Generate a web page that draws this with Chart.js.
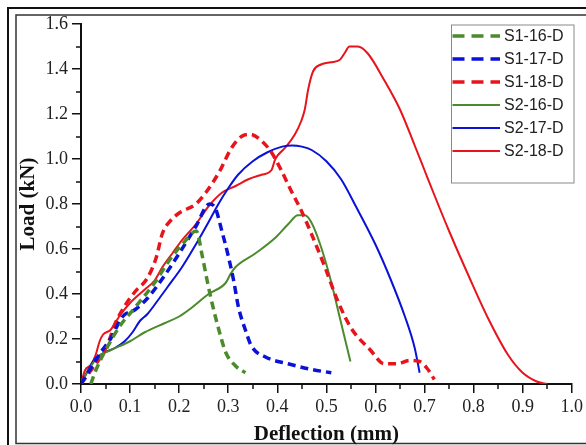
<!DOCTYPE html>
<html>
<head>
<meta charset="utf-8">
<script src="https://cdn.jsdelivr.net/npm/chart.js@4"></script>
<style>
  html, body { margin: 0; padding: 0; background: #fff; }
  canvas { display: block; }
</style>
</head>
<body>
<canvas id="loadChart" width="586" height="445"></canvas>
<script>
// Load-deflection curves, deflection in mm, load in kN
const s1_16_x = [0.02, 0.03, 0.05, 0.08, 0.11, 0.15, 0.18, 0.21, 0.235, 0.247, 0.257, 0.267, 0.281, 0.295, 0.315, 0.335];
const s1_16_y = [0.0, 0.06, 0.15, 0.26, 0.34, 0.45, 0.55, 0.63, 0.68, 0.57, 0.46, 0.36, 0.24, 0.14, 0.08, 0.05];

const s1_17_x = [0.0, 0.02, 0.04, 0.06, 0.085, 0.11, 0.135, 0.16, 0.2, 0.234, 0.262, 0.274, 0.287, 0.30, 0.311, 0.321, 0.335, 0.347, 0.376, 0.422, 0.469, 0.51];
const s1_17_y = [0.0, 0.07, 0.14, 0.2, 0.3, 0.33, 0.38, 0.45, 0.58, 0.70, 0.80, 0.78, 0.68, 0.57, 0.46, 0.34, 0.24, 0.17, 0.12, 0.09, 0.065, 0.05];

const s1_18_x = [0.0, 0.02, 0.04, 0.055, 0.07, 0.09, 0.11, 0.135, 0.153, 0.166, 0.18, 0.2, 0.234, 0.254, 0.281, 0.307, 0.327, 0.345, 0.368, 0.388, 0.408, 0.428, 0.449, 0.469, 0.497, 0.523, 0.55, 0.59, 0.618, 0.644, 0.67, 0.69, 0.705, 0.72];
const s1_18_y = [0.0, 0.06, 0.12, 0.18, 0.27, 0.35, 0.41, 0.47, 0.56, 0.67, 0.72, 0.76, 0.80, 0.85, 0.94, 1.05, 1.10, 1.11, 1.08, 1.03, 0.95, 0.86, 0.77, 0.67, 0.52, 0.37, 0.25, 0.15, 0.09, 0.09, 0.105, 0.10, 0.07, 0.02];

const s2_16_x = [0.0, 0.015, 0.034, 0.06, 0.1, 0.13, 0.17, 0.2, 0.22, 0.26, 0.295, 0.305, 0.315, 0.355, 0.396, 0.422, 0.442, 0.456, 0.469, 0.489, 0.509, 0.529, 0.549];
const s2_16_y = [0.0, 0.06, 0.12, 0.15, 0.19, 0.23, 0.27, 0.30, 0.33, 0.40, 0.45, 0.49, 0.52, 0.58, 0.65, 0.71, 0.75, 0.75, 0.72, 0.61, 0.46, 0.28, 0.10];

const s2_17_x = [0.0, 0.014, 0.028, 0.048, 0.069, 0.089, 0.105, 0.12, 0.135, 0.156, 0.176, 0.206, 0.234, 0.26, 0.28, 0.30, 0.32, 0.35, 0.38, 0.41, 0.43, 0.45, 0.47, 0.50, 0.53, 0.56, 0.60, 0.63, 0.66, 0.68, 0.69];
const s2_17_y = [0.0, 0.06, 0.11, 0.14, 0.16, 0.19, 0.23, 0.28, 0.31, 0.37, 0.43, 0.52, 0.62, 0.72, 0.80, 0.87, 0.93, 0.99, 1.03, 1.055, 1.06, 1.055, 1.04, 0.99, 0.91, 0.79, 0.62, 0.47, 0.30, 0.16, 0.05];

const s2_18_x = [0.0, 0.008, 0.02, 0.03, 0.038, 0.045, 0.06, 0.069, 0.081, 0.1, 0.13, 0.15, 0.166, 0.186, 0.206, 0.234, 0.26, 0.287, 0.315, 0.341, 0.368, 0.388, 0.396, 0.416, 0.436, 0.449, 0.456, 0.463, 0.473, 0.489, 0.509, 0.527, 0.537, 0.547, 0.564, 0.584, 0.618, 0.65, 0.68, 0.70, 0.72, 0.75, 0.79, 0.83, 0.87, 0.90, 0.93, 0.95];
const s2_18_y = [0.0, 0.06, 0.085, 0.13, 0.19, 0.22, 0.24, 0.27, 0.31, 0.36, 0.42, 0.46, 0.52, 0.58, 0.64, 0.71, 0.79, 0.85, 0.88, 0.91, 0.93, 0.95, 1.0, 1.05, 1.11, 1.17, 1.22, 1.31, 1.39, 1.42, 1.43, 1.44, 1.47, 1.50, 1.50, 1.47, 1.35, 1.22, 1.06, 0.95, 0.84, 0.68, 0.48, 0.29, 0.13, 0.05, 0.01, 0.0];

const seriesLabels = ['S1-16-D', 'S1-17-D', 'S1-18-D', 'S2-16-D', 'S2-17-D', 'S2-18-D'];
const xTicks = [0, 0.1, 0.2, 0.3, 0.4, 0.5, 0.6, 0.7, 0.8, 0.9, 1.0];
const yTicks = [0, 0.2, 0.4, 0.6, 0.8, 1.0, 1.2, 1.4, 1.6];

const GREEN = '#4b8b2b';
const BLUE = '#0a12d8';
const RED = '#e8141b';

function pts(xs, ys) {
    return xs.map((x, i) => ({ x: x, y: ys[i] }));
}

function dashed(label, xs, ys, color) {
    return {
        label: label, data: pts(xs, ys), borderColor: color,
        borderWidth: 3.5, borderDash: [8, 5], pointRadius: 0,
        cubicInterpolationMode: 'monotone', fill: false
    };
}

function solid(label, xs, ys, color) {
    return {
        label: label, data: pts(xs, ys), borderColor: color,
        borderWidth: 2, pointRadius: 0,
        cubicInterpolationMode: 'monotone', fill: false
    };
}

// double frame around the figure
const framePlugin = {
    id: 'frame',
    beforeDraw(chart) {
        const c = chart.ctx;
        const W = chart.width, H = chart.height;
        c.save();
        c.fillStyle = '#fff';
        c.fillRect(0, 0, W, H);
        c.strokeStyle = '#111';
        c.lineWidth = 2;
        c.beginPath();
        c.moveTo(W, 8); c.lineTo(8, 8); c.lineTo(8, H);
        c.stroke();
        c.lineWidth = 1.5;
        c.strokeStyle = '#333';
        c.beginPath();
        c.moveTo(W, 15); c.lineTo(16, 15); c.lineTo(16, 443.5); c.lineTo(W, 443.5);
        c.stroke();
        c.restore();
    }
};

// minor ticks halfway between labelled ticks
const minorTicks = {
    id: 'minorTicks',
    afterDraw(chart) {
        const c = chart.ctx;
        const xs = chart.scales.x, ys = chart.scales.y;
        const area = chart.chartArea;
        c.save();
        c.strokeStyle = '#111';
        c.lineWidth = 1.5;
        c.beginPath();
        for (let i = 0; i < xTicks.length - 1; i++) {
            const px = Math.round(xs.getPixelForValue((xTicks[i] + xTicks[i + 1]) / 2));
            c.moveTo(px, area.bottom); c.lineTo(px, area.bottom + 5);
        }
        for (let i = 0; i < yTicks.length - 1; i++) {
            const py = Math.round(ys.getPixelForValue((yTicks[i] + yTicks[i + 1]) / 2));
            c.moveTo(area.left, py); c.lineTo(area.left - 5, py);
        }
        c.stroke();
        c.restore();
    }
};

// boxed legend in the upper right corner
const boxLegend = {
    id: 'boxLegend',
    afterDraw(chart) {
        const c = chart.ctx;
        const left = 451.5, top = 25, right = 574, bottom = 183;
        c.save();
        c.strokeStyle = '#8a8a8a';
        c.lineWidth = 1;
        c.strokeRect(left, top, right - left, bottom - top);
        c.font = '16px "Liberation Sans", Arial, sans-serif';
        c.textBaseline = 'middle';
        c.textAlign = 'left';
        chart.data.datasets.forEach((ds, i) => {
            const y = 36 + i * 23;
            c.strokeStyle = ds.borderColor;
            c.lineWidth = ds.borderDash ? 3.5 : 2;
            c.setLineDash(ds.borderDash ? [12, 7] : []);
            c.beginPath();
            c.moveTo(left + 1, y); c.lineTo(500, y);
            c.stroke();
            c.setLineDash([]);
            c.fillStyle = '#222';
            c.fillText(ds.label, 504, y + 1);
        });
        c.restore();
    }
};

const ctx = document.getElementById('loadChart').getContext('2d');

const loadChart = new Chart(ctx, {
    type: 'line',
    data: {
        datasets: [
            dashed(seriesLabels[0], s1_16_x, s1_16_y, GREEN),
            dashed(seriesLabels[1], s1_17_x, s1_17_y, BLUE),
            dashed(seriesLabels[2], s1_18_x, s1_18_y, RED),
            solid(seriesLabels[3], s2_16_x, s2_16_y, GREEN),
            solid(seriesLabels[4], s2_17_x, s2_17_y, BLUE),
            solid(seriesLabels[5], s2_18_x, s2_18_y, RED)
        ]
    },
    options: {
        responsive: false,
        devicePixelRatio: 1,
        animation: false,
        layout: { padding: { left: 0, right: 10, top: 24, bottom: 0 } },
        plugins: {
            legend: { display: false },
            tooltip: { enabled: false }
        },
        scales: {
            x: {
                type: 'linear',
                min: 0,
                max: 1,
                afterFit(scale) { scale.height = 61; },
                afterBuildTicks(scale) { scale.ticks = xTicks.map(v => ({ value: v })); },
                ticks: {
                    autoSkip: false,
                    maxRotation: 0,
                    padding: 3,
                    color: '#222',
                    font: { family: '"Liberation Serif", "Times New Roman", serif', size: 18 },
                    callback: v => v.toFixed(1)
                },
                grid: { drawOnChartArea: false, tickLength: 9, color: '#111', lineWidth: 1.5 },
                border: { color: '#111', width: 2 },
                title: {
                    display: true,
                    text: 'Deflection (mm)',
                    color: '#111',
                    padding: { top: 0, bottom: 0 },
                    font: { family: '"Liberation Serif", "Times New Roman", serif', size: 21, weight: 'bold', lineHeight: 1 }
                }
            },
            y: {
                min: 0,
                max: 1.6,
                afterFit(scale) { scale.width = 81; },
                afterBuildTicks(scale) { scale.ticks = yTicks.map(v => ({ value: v })); },
                ticks: {
                    autoSkip: false,
                    padding: 4,
                    color: '#222',
                    font: { family: '"Liberation Serif", "Times New Roman", serif', size: 18 },
                    callback: v => v.toFixed(1)
                },
                grid: { drawOnChartArea: false, tickLength: 9, color: '#111', lineWidth: 1.5 },
                border: { color: '#111', width: 2 },
                title: {
                    display: true,
                    text: 'Load (kN)',
                    color: '#111',
                    padding: { top: 18, bottom: 0 },
                    font: { family: '"Liberation Serif", "Times New Roman", serif', size: 21, weight: 'bold', lineHeight: 1 }
                }
            }
        }
    },
    plugins: [framePlugin, minorTicks, boxLegend]
});
</script>
</body>
</html>
